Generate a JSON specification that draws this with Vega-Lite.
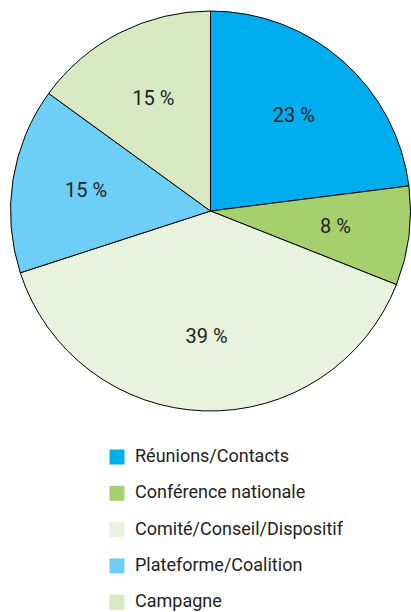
{
  "$schema": "https://vega.github.io/schema/vega-lite/v6.json",
  "width": 411,
  "height": 612,
  "padding": 0,
  "autosize": {"type": "none"},
  "background": "white",
  "view": {"stroke": null},
  "data": {
    "values": [
      {"cat": "Réunions/Contacts", "pct": 23, "ord": 1},
      {"cat": "Conférence nationale", "pct": 8, "ord": 2},
      {"cat": "Comité/Conseil/Dispositif", "pct": 39, "ord": 3},
      {"cat": "Plateforme/Coalition", "pct": 15, "ord": 4},
      {"cat": "Campagne", "pct": 15, "ord": 5}
    ]
  },
  "transform": [{"calculate": "datum.pct + ' %'", "as": "label"}],
  "encoding": {
    "theta": {"field": "pct", "type": "quantitative", "stack": true},
    "order": {"field": "ord", "type": "quantitative"},
    "color": {
      "field": "cat",
      "type": "nominal",
      "scale": {
        "domain": ["Réunions/Contacts", "Conférence nationale", "Comité/Conseil/Dispositif", "Plateforme/Coalition", "Campagne"],
        "range": ["#00AEEF", "#A6D06E", "#E8F2DC", "#6DCFF6", "#D7E8C3"]
      },
      "legend": {
        "title": null,
        "orient": "none",
        "legendX": 108,
        "legendY": 448,
        "symbolType": "square",
        "symbolSize": 225,
        "symbolStrokeWidth": 0,
        "labelFont": "Roboto",
        "labelFontSize": 18,
        "labelColor": "#231F20",
        "labelOffset": 9,
        "rowPadding": 18.3,
        "labelLimit": 300
      }
    }
  },
  "layer": [
    {
      "mark": {"type": "arc", "x": 210.5, "y": 211, "outerRadius": 200, "stroke": "black", "strokeWidth": 1}
    },
    {
      "mark": {"type": "text", "x": 210.5, "y": 211, "radius": 126, "font": "Roboto", "fontSize": 20},
      "encoding": {
        "text": {"field": "label", "type": "nominal"},
        "color": {"value": "#231F20"}
      }
    }
  ]
}
